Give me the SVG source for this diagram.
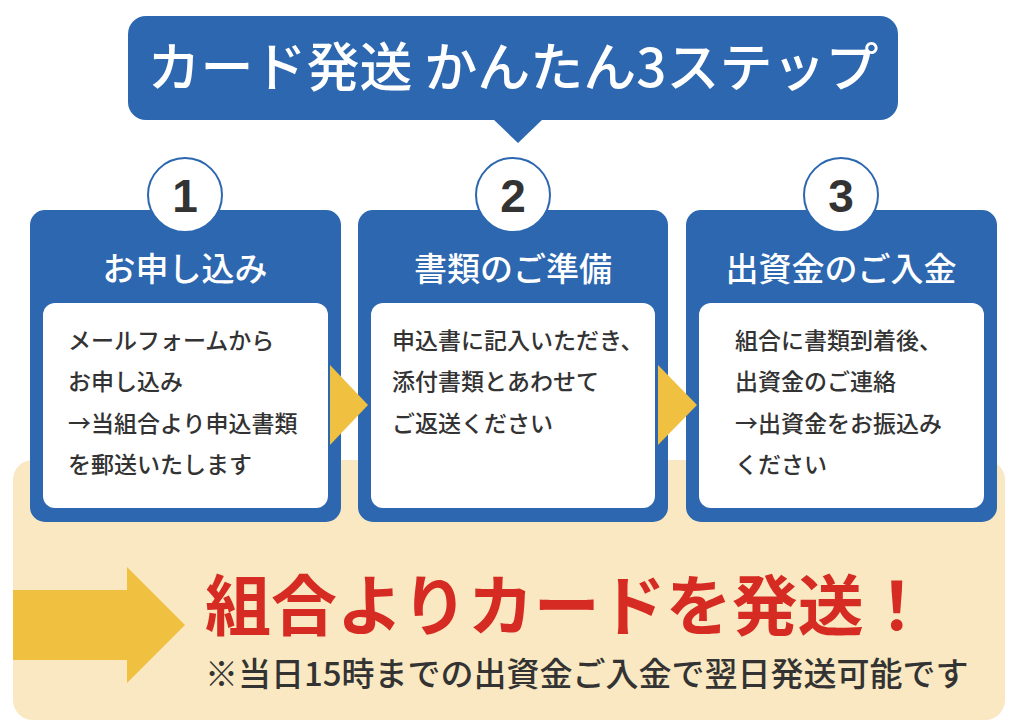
<svg xmlns="http://www.w3.org/2000/svg" width="1024" height="728" viewBox="0 0 1024 728">
<style>
text{font-family:"Noto Sans CJK JP","Noto Sans",sans-serif}
.blue{fill:#2c67b0}
.yel{fill:#f0c040}
.head{fill:#fff;font-size:33px;font-weight:500;text-anchor:middle}
.body{fill:#333;font-size:23px;font-weight:500}
.num{fill:#333;font-size:46px;font-weight:700;text-anchor:middle;font-family:"Liberation Sans",sans-serif}
.circ{fill:#fff;stroke:#2c67b0;stroke-width:2}
</style>
<rect x="13" y="460" width="992" height="260" rx="20" fill="#f9e8c1"/>
<g id="title">
<rect class="blue" x="128" y="16" width="770" height="104" rx="18"/>
<polygon class="blue" points="492,118 544,118 518,143"/>
<text x="513" y="87" fill="#fff" font-size="53" font-weight="500" text-anchor="middle">カード発送 かんたん3ステップ</text>
</g>
<g id="step1">
<rect class="blue" x="30" y="210" width="311" height="312" rx="15"/>
<rect x="43" y="303" width="285" height="205" rx="12" fill="#fff"/>
<circle class="circ" cx="185" cy="195" r="37"/>
<text class="num" x="185" y="212">1</text>
<text class="head" x="185" y="281">お申し込み</text>
<text class="body" x="68" y="349">メールフォームから</text>
<text class="body" x="68" y="390">お申し込み</text>
<text class="body" x="68" y="432">→当組合より申込書類</text>
<text class="body" x="68" y="473">を郵送いたします</text>
</g>
<g id="step2">
<rect class="blue" x="358" y="210" width="310" height="312" rx="15"/>
<rect x="371" y="303" width="284" height="205" rx="12" fill="#fff"/>
<circle class="circ" cx="513" cy="195" r="37"/>
<text class="num" x="513" y="212">2</text>
<text class="head" x="513" y="281">書類のご準備</text>
<text class="body" x="392" y="349">申込書に記入いただき、</text>
<text class="body" x="392" y="390">添付書類とあわせて</text>
<text class="body" x="392" y="432">ご返送ください</text>
</g>
<g id="step3">
<rect class="blue" x="686" y="210" width="311" height="312" rx="15"/>
<rect x="699" y="303" width="285" height="205" rx="12" fill="#fff"/>
<circle class="circ" cx="841" cy="195" r="37"/>
<text class="num" x="841" y="212">3</text>
<text class="head" x="841" y="281">出資金のご入金</text>
<text class="body" x="735" y="349">組合に書類到着後、</text>
<text class="body" x="735" y="390">出資金のご連絡</text>
<text class="body" x="735" y="432">→出資金をお振込み</text>
<text class="body" x="735" y="473">ください</text>
</g>
<g id="connectors">
<polygon class="yel" points="330,365 368,405 330,445"/>
<polygon class="yel" points="658,365 697,405 658,445"/>
</g>
<g id="result">
<polygon class="yel" points="13,590 127,590 127,567 185,625 127,683 127,660 13,660"/>
<text x="205" y="630" fill="#d62b22" font-size="66" font-weight="700">組合よりカードを発送！</text>
<text x="205" y="686" fill="#333" font-size="33" font-weight="500">※当日15時までの出資金ご入金で翌日発送可能です</text>
</g>
</svg>
